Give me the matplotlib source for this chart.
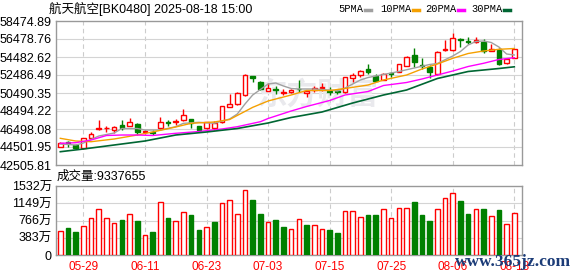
import matplotlib
matplotlib.use("Agg")
import matplotlib.pyplot as plt
from matplotlib.patches import Rectangle
from matplotlib.lines import Line2D

plt.rcParams['font.family'] = ['Liberation Sans', 'Noto Sans CJK SC']

# daily candles 05-26 .. 08-18
opens = [44537, 45018, 44722, 44352, 45535, 46533, 46570, 46422, 46940, 46866,
         47014, 46164, 46127, 46570, 47273, 47273, 47458, 47569, 46792, 46570,
         46570, 47236, 48973, 49232, 50267, 52374, 51672, 50748, 50970, 50526,
         50563, 50933, 50452, 50785, 51081, 50748, 50674, 50563, 52116, 52485,
         53151, 52374, 51931, 52707, 52855, 53521, 54704, 53632, 53410, 52559,
         55295, 55221, 56478, 56219, 56182, 56182, 55147, 55295, 53779, 54408]
closes = [44980, 44944, 44426, 45461, 45942, 46607, 46644, 46681, 46570, 47236,
          46201, 46238, 46053, 47310, 47199, 47347, 48049, 47199, 46422, 47236,
          47125, 49047, 49269, 50452, 52485, 52116, 50933, 51044, 50859, 50600,
          50859, 50896, 50674, 51081, 51155, 50637, 50600, 52227, 52485, 52930,
          52855, 51857, 52559, 52633, 53669, 54519, 53964, 53521, 52781, 55000,
          55369, 56552, 56404, 56145, 56367, 55147, 55406, 53743, 54223, 55369]
highs = [45054, 45165, 44796, 45498, 46201, 47458, 46829, 46829, 47458, 47679,
         47125, 46385, 46422, 47790, 47495, 47605, 48677, 47642, 46866, 47310,
         47384, 49084, 50378, 50563, 52559, 52374, 51820, 51635, 51302, 50933,
         50933, 51931, 50711, 51265, 51561, 51192, 50822, 52264, 52670, 53040,
         53669, 52559, 52670, 52855, 53743, 54593, 55517, 54408, 53595, 55147,
         56367, 57107, 56626, 56663, 56737, 56441, 55924, 55443, 54260, 55406]
lows = [44500, 44537, 44352, 44278, 45461, 46348, 46201, 46016, 46385, 46829,
        45831, 45905, 45831, 46385, 46829, 46940, 47384, 46570, 46348, 46533,
        46385, 47199, 48936, 49158, 50193, 51746, 50822, 50711, 50378, 50267,
        50526, 50637, 50082, 50563, 50711, 50267, 50415, 50526, 51746, 52301,
        52559, 51820, 51894, 52301, 52781, 53484, 53410, 53151, 52190, 52485,
        55147, 55184, 55628, 55924, 55998, 54889, 55110, 53595, 53743, 54371]
# volume in 万
volumes = [538, 590, 516, 650, 830, 1031, 830, 710, 785, 912,
           762, 441, 516, 1181, 830, 755, 957, 897, 560, 620,
           740, 1158, 1211, 912, 1435, 1211, 919, 732, 785, 628,
           583, 807, 673, 673, 583, 560, 493, 986, 986, 852,
           897, 897, 1031, 830, 1054, 1054, 1166, 897, 762, 1031,
           1256, 1368, 1188, 919, 1031, 1031, 874, 1009, 695, 934]

# moving averages (index, value)
ma5_idx = [0, 2, 3, 5, 7, 8, 10, 11, 13, 15, 16, 18, 20, 22, 23, 24, 25, 27, 28, 29,
           30, 31, 33, 35, 36, 37, 39, 40, 42, 44, 46, 48, 49, 51, 52, 53, 54, 55, 56, 57, 58, 59]
ma5_val = [44834, 44723, 44945, 45721, 46054, 46553, 46553, 46387, 46387, 46753,
           47130, 47241, 47130, 47607, 48161, 49270, 50268, 51488, 51599, 51266,
           50989, 50934, 50934, 50823, 50712, 51045, 51932, 52209, 52542, 52875,
           53263, 53651, 53762, 54593, 55093, 55813, 56202, 56257, 56091, 55592, 54815, 54704]
ma10_idx = [0, 2, 4, 7, 10, 12, 15, 17, 20, 22, 25, 27, 30, 32, 35, 37, 40, 42, 45, 47, 49, 51, 53, 55, 57, 59]
ma10_val = [45466, 45167, 45089, 45389, 45832, 46165, 46720, 47130, 47274, 47550,
            48900, 49603, 50268, 50767, 50767, 50989, 51377, 51932, 52486, 53152,
            53706, 54338, 54871, 55148, 55337, 55425]
ma20_idx = [0, 2, 4, 6, 8, 10, 12, 15, 18, 21, 23, 26, 27, 30, 32, 35, 37, 40, 42, 45, 47, 49, 51, 53, 55, 57, 59]
ma20_val = [44912, 44978, 45278, 45777, 45832, 45832, 45777, 46021, 46220, 46498,
            46753, 47307, 47662, 48494, 48993, 49658, 50268, 50657, 51322, 51655,
            52043, 52486, 52930, 53429, 53784, 54205, 54405]
ma30_idx = [0, 3, 6, 11, 15, 19, 23, 27, 30, 34, 38, 42, 45, 49, 53, 57, 59]
ma30_val = [43980, 44280, 44613, 45167, 45832, 46165, 46553, 47163, 47773, 48383,
            49381, 50268, 50823, 52098, 52875, 53207, 53396]

date_idx = [3, 11, 19, 27, 35, 43, 51, 59]
date_labels = ['05-29', '06-11', '06-23', '07-03', '07-15', '07-25', '08-06', '08-18']
price_ticks = [42505.81, 44501.95, 46498.08, 48494.22, 50490.35,
               52486.49, 54482.62, 56478.76, 58474.89]
vol_ticks = [0, 383, 766, 1149, 1532]
vol_tick_labels = ['0', '383万', '766万', '1149万', '1532万']
last_volume = 9337655

RED = '#ff0000'
GREEN = '#008000'
W, H = 578, 276

fig = plt.figure(figsize=(W / 100, H / 100), dpi=100)
ax = fig.add_axes([56 / W, 1 - 165 / H, 466 / W, 144 / H])
axv = fig.add_axes([56 / W, 1 - 255 / H, 466 / W, 69 / H])

for a in (ax, axv):
    for s in a.spines.values():
        s.set_color('#999999')
        s.set_linewidth(1)
    a.set_xlim(-0.56, len(closes))
    a.tick_params(length=0, labelsize=9, pad=3)
    for d in date_idx:
        a.axvline(d, color='#cccccc', lw=0.8, ls=(0, (4, 3)), zorder=0)

# price panel
ax.set_ylim(price_ticks[0], price_ticks[-1])
ax.set_yticks(price_ticks)
ax.set_yticklabels(['%.2f' % t for t in price_ticks])
ax.set_xticks([])
for t in price_ticks[1:-1]:
    ax.axhline(t, color='#d4d4d4', lw=0.8, zorder=0)

# faint watermark
ax.text(0.56, 0.49, '东方财富', transform=ax.transAxes, fontsize=22, fontweight='bold',
        color='#e9e9ed', ha='center', va='center', family=['Noto Sans CJK SC'], zorder=0)

for i in range(len(closes)):
    up = closes[i] >= opens[i]
    c = RED if up else GREEN
    ax.vlines(i, lows[i], highs[i], color=c, lw=1, zorder=2)
    lo = min(opens[i], closes[i])
    hgt = max(abs(closes[i] - opens[i]), 15)
    ax.add_patch(Rectangle((i - 0.3, lo), 0.6, hgt, facecolor='white' if up else GREEN,
                           edgecolor=c, lw=1, zorder=3))

ax.plot(ma5_idx, ma5_val, color='#a0a0a0', lw=1, zorder=4)
ax.plot(ma10_idx, ma10_val, color='#f5a000', lw=1, zorder=4)
ax.plot(ma20_idx, ma20_val, color='#ff00ff', lw=1, zorder=4)
ax.plot(ma30_idx, ma30_val, color='#006633', lw=1.2, zorder=4)

# volume panel
axv.set_ylim(0, vol_ticks[-1])
axv.set_yticks(vol_ticks)
axv.set_yticklabels(vol_tick_labels)
for t in vol_ticks[1:-1]:
    axv.axhline(t, color='#d4d4d4', lw=0.8, zorder=0)
for i in range(len(volumes)):
    if i == 0:
        up = closes[0] >= opens[0]
    else:
        up = closes[i] >= closes[i - 1]
    axv.bar(i, volumes[i], width=0.6, color='white' if up else GREEN,
            edgecolor=RED if up else GREEN, lw=1, zorder=3)
axv.set_xticks(date_idx)
axv.set_xticklabels(date_labels, color=RED, fontsize=8.5)
axv.tick_params(axis='x', pad=4)

# header texts
fig.text(49 / W, 1 - 9 / H, '航天航空[BK0480] 2025-08-18 15:00', fontsize=9, va='center')
legend = [('5PMA', 338, '#a0a0a0'), ('10PMA', 380, '#f5a000'),
          ('20PMA', 425, '#ff00ff'), ('30PMA', 471, '#006633')]
for name, x0, col in legend:
    fig.text(x0 / W, 1 - 9 / H, name, fontsize=7.5, va='center', family=['Liberation Mono'])
    x1 = x0 + len(name) * 6.25 + 2
    fig.add_artist(Line2D([x1 / W, (x1 + 6) / W], [1 - 10 / H, 1 - 10 / H], color=col, lw=2.5))

fig.text(57 / W, 1 - 177 / H, '成交量:%d' % last_volume, fontsize=9, va='center')
# site watermark over the bottom-right corner, as in the reference
fig.text(455 / W, 1 - 262 / H, 'www.365jz.com', fontsize=12.5, va='center',
         family=['Liberation Serif'], color='#1c3c78', fontweight='bold', zorder=10)

fig.savefig('out.png', dpi=100)
